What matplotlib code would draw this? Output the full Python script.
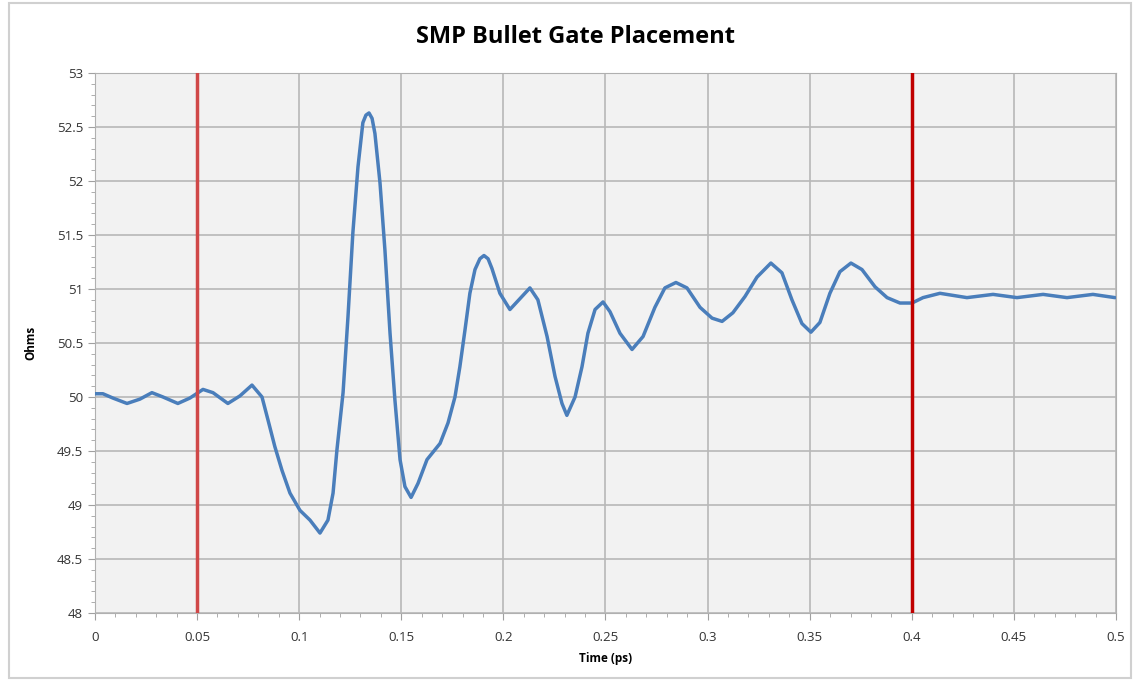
import numpy as np
import matplotlib.pyplot as plt
from matplotlib.ticker import MultipleLocator, FuncFormatter
from matplotlib.patches import Rectangle

plt.rcParams['font.family'] = ['Open Sans', 'DejaVu Sans']

# values
time_ps = [0.0000, 0.0039, 0.0088, 0.0157, 0.0220, 0.0279, 0.0333, 0.0406, 0.0465,
           0.0529, 0.0578, 0.0651, 0.0710, 0.0769, 0.0818, 0.0847, 0.0881, 0.0916,
           0.0955, 0.1004, 0.1053, 0.1102, 0.1141, 0.1166, 0.1185, 0.1215, 0.1239,
           0.1263, 0.1288, 0.1312, 0.1327, 0.1342, 0.1357, 0.1371, 0.1396, 0.1420,
           0.1445, 0.1469, 0.1494, 0.1518, 0.1548, 0.1582, 0.1626, 0.1690, 0.1729,
           0.1763, 0.1787, 0.1812, 0.1836, 0.1861, 0.1885, 0.1905, 0.1925, 0.1944,
           0.1983, 0.2032, 0.2081, 0.2130, 0.2169, 0.2214, 0.2253, 0.2287, 0.2311,
           0.2351, 0.2385, 0.2414, 0.2449, 0.2488, 0.2522, 0.2571, 0.2630, 0.2684,
           0.2742, 0.2791, 0.2845, 0.2899, 0.2963, 0.3022, 0.3071, 0.3124, 0.3183,
           0.3242, 0.3310, 0.3364, 0.3413, 0.3462, 0.3506, 0.3550, 0.3599, 0.3648,
           0.3702, 0.3756, 0.3820, 0.3879, 0.3942, 0.4001, 0.4055, 0.4138, 0.4270,
           0.4398, 0.4515, 0.4643, 0.4760, 0.4887, 0.4995]
ohms = [50.03, 50.03, 49.99, 49.94, 49.98, 50.04, 50.00, 49.94, 49.99,
        50.07, 50.04, 49.94, 50.01, 50.11, 50.00, 49.79, 49.54, 49.32,
        49.11, 48.95, 48.86, 48.74, 48.86, 49.11, 49.51, 50.04, 50.74,
        51.52, 52.13, 52.54, 52.61, 52.63, 52.58, 52.44, 51.98, 51.36,
        50.59, 49.97, 49.42, 49.17, 49.07, 49.20, 49.42, 49.57, 49.76,
        50.00, 50.28, 50.62, 50.96, 51.18, 51.28, 51.31, 51.28, 51.19,
        50.96, 50.81, 50.91, 51.01, 50.90, 50.56, 50.19, 49.94, 49.83,
        50.00, 50.28, 50.59, 50.81, 50.88, 50.79, 50.59, 50.44, 50.56,
        50.83, 51.01, 51.06, 51.01, 50.83, 50.73, 50.70, 50.78, 50.93,
        51.11, 51.24, 51.15, 50.90, 50.68, 50.60, 50.69, 50.96, 51.16,
        51.24, 51.18, 51.02, 50.92, 50.87, 50.87, 50.92, 50.96, 50.92,
        50.95, 50.92, 50.95, 50.92, 50.95, 50.92]
gates = [0.05, 0.4]
gate_colors = ['#d04848', '#c00000']

fig = plt.figure(figsize=(11.33, 6.81), dpi=100)
ax = fig.add_axes([0.0838, 0.0999, 0.9012, 0.7929])
fig.patches.append(Rectangle((0.008, 0.005), 0.99, 0.99, transform=fig.transFigure,
                             fill=False, edgecolor='#d0d0d0', linewidth=1.5))

ax.set_facecolor('#f2f2f2')
ax.plot(time_ps, ohms, color='#4a7ebb', linewidth=2.5, zorder=3,
        solid_joinstyle='round', solid_capstyle='round')
for g, c in zip(gates, gate_colors):
    ax.axvline(g, color=c, linewidth=2.5, zorder=4)

ax.set_xlim(0, 0.5)
ax.set_ylim(48, 53)
ax.xaxis.set_major_locator(MultipleLocator(0.05))
ax.xaxis.set_minor_locator(MultipleLocator(0.01))
ax.yaxis.set_major_locator(MultipleLocator(0.5))
ax.yaxis.set_minor_locator(MultipleLocator(0.1))
fmt = FuncFormatter(lambda v, p: '%g' % round(v, 3))
ax.xaxis.set_major_formatter(fmt)
ax.yaxis.set_major_formatter(fmt)
ax.grid(True, which='major', color='#b8b8b8', linewidth=1.2)
ax.tick_params(which='both', colors='#a0a0a0', labelcolor='#333333', labelsize=9.5)
ax.tick_params(which='major', length=5)
ax.tick_params(which='minor', length=3)
ax.tick_params(axis='x', pad=8)
for s in ax.spines.values():
    s.set_color('#b0b0b0')

fig.text(0.508, 0.946, 'SMP Bullet Gate Placement', fontsize=17, fontweight='bold',
         ha='center', va='center')
ax.set_xlabel('Time (ps)', fontsize=8.5, fontweight='bold', labelpad=6)
ax.set_ylabel('Ohms', fontsize=8.5, fontweight='bold', labelpad=14)

plt.savefig('out.png', dpi=100)
